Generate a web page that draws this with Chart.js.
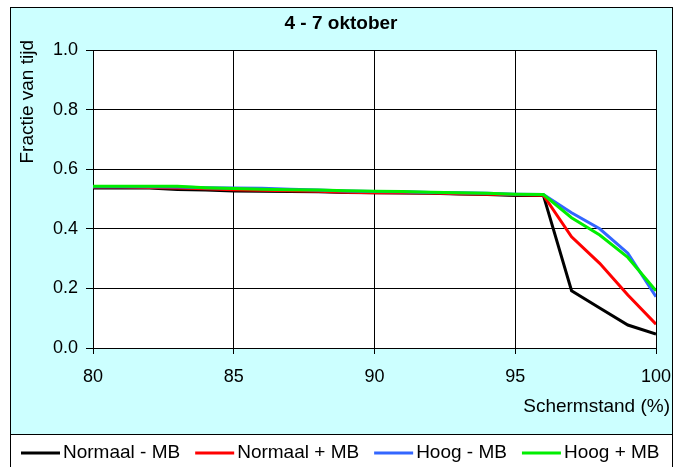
<!DOCTYPE html>
<html>
<head>
<meta charset="utf-8">
<script src="https://cdn.jsdelivr.net/npm/chart.js@4/dist/chart.umd.min.js"></script>
<style>
  html, body { margin: 0; padding: 0; background: #fff; }
  #wrap { width: 685px; height: 467px; }
</style>
</head>
<body>
<div id="wrap"><canvas id="chart" width="685" height="467"></canvas></div>
<script>
// schermstand (%) op de x-as
const schermstand = [80, 81, 82, 83, 84, 85, 86, 87, 88, 89, 90, 91, 92, 93, 94, 95, 96, 97, 98, 99, 100];

const normaalMin = [0.537, 0.537, 0.537, 0.532, 0.530, 0.527, 0.526, 0.525, 0.524, 0.522, 0.521, 0.520, 0.519, 0.517, 0.515, 0.512, 0.512, 0.192, 0.134, 0.077, 0.047];
const normaalPlus = [0.540, 0.540, 0.539, 0.537, 0.534, 0.531, 0.529, 0.528, 0.526, 0.523, 0.521, 0.521, 0.520, 0.518, 0.516, 0.514, 0.513, 0.373, 0.284, 0.178, 0.080];
const hoogMin = [0.541, 0.541, 0.541, 0.540, 0.538, 0.537, 0.536, 0.533, 0.530, 0.527, 0.525, 0.524, 0.522, 0.521, 0.519, 0.516, 0.515, 0.454, 0.400, 0.318, 0.172];
const hoogPlus = [0.543, 0.543, 0.543, 0.543, 0.538, 0.535, 0.533, 0.531, 0.530, 0.528, 0.526, 0.525, 0.523, 0.521, 0.519, 0.516, 0.515, 0.437, 0.379, 0.304, 0.192];

const seriesNames = ["Normaal - MB", "Normaal + MB", "Hoog - MB", "Hoog + MB"];
const seriesColors = ["#000000", "#ff0000", "#3366ff", "#00ee00"];
const seriesValues = [normaalMin, normaalPlus, hoogMin, hoogPlus];

const titleText = "4 - 7 oktober";
const yTitle = "Fractie van tijd";
const xTitle = "Schermstand (%)";

const FONT = "'Liberation Sans', Arial, sans-serif";

function toPoints(values) {
    return schermstand.map((x, i) => ({ x: x, y: values[i] }));
}

// achtergrond, kaders, titels en legenda
const framePlugin = {
    id: "frame",
    beforeDraw(chart) {
        const c = chart.ctx;
        const a = chart.chartArea;
        c.save();
        c.fillStyle = "#ffffff";
        c.fillRect(0, 0, chart.width, chart.height);
        c.fillStyle = "#ccffff";
        c.fillRect(11, 8, 661, 426);
        c.fillStyle = "#ffffff";
        c.fillRect(a.left, a.top, a.right - a.left, a.bottom - a.top);
        c.strokeStyle = "#000";
        c.lineWidth = 1;
        c.strokeRect(10.5, 7.5, 662, 427);
        c.strokeRect(10.5, 434.5, 662, 40);
        c.restore();
    },
    afterDraw(chart) {
        const c = chart.ctx;
        c.save();
        c.fillStyle = "#000";

        c.font = "bold 19px " + FONT;
        c.textAlign = "center";
        c.textBaseline = "middle";
        c.fillText(titleText, 341, 24);

        c.font = "19px " + FONT;
        c.textAlign = "right";
        c.fillText(xTitle, 670, 407);

        c.save();
        c.translate(28, 40);
        c.rotate(-Math.PI / 2);
        c.textAlign = "right";
        c.fillText(yTitle, 0, 0);
        c.restore();

        // legenda
        let x = 21;
        const y = 453;
        c.textAlign = "left";
        seriesNames.forEach((name, i) => {
            c.strokeStyle = seriesColors[i];
            c.lineWidth = 3;
            c.beginPath();
            c.moveTo(x, y);
            c.lineTo(x + 39, y);
            c.stroke();
            c.fillText(name, x + 42, y);
            x += 42 + c.measureText(name).width + 15;
        });
        c.restore();
    }
};

const ctx = document.getElementById("chart").getContext("2d");

new Chart(ctx, {
    type: "line",
    data: {
        datasets: seriesNames.map((name, i) => ({
            label: name,
            data: toPoints(seriesValues[i]),
            borderColor: seriesColors[i],
            backgroundColor: seriesColors[i],
            borderWidth: 3,
            pointRadius: 0,
            tension: 0,
            fill: false,
            order: 4 - i
        }))
    },
    options: {
        responsive: false,
        animation: false,
        devicePixelRatio: 1,
        layout: { padding: { left: 0, top: 50, right: 29, bottom: 0 } },
        plugins: {
            legend: { display: false },
            title: { display: false },
            tooltip: { enabled: false }
        },
        scales: {
            x: {
                type: "linear",
                min: 80,
                max: 100,
                ticks: { stepSize: 5, color: "#000", font: { family: FONT, size: 18 }, padding: 12, maxRotation: 0 },
                grid: { color: "#000", tickLength: 6, lineWidth: 1 },
                border: { color: "#000" },
                afterFit(scale) { scale.height = 119; }
            },
            y: {
                min: 0,
                max: 1,
                ticks: {
                    stepSize: 0.2,
                    color: "#000",
                    font: { family: FONT, size: 18 },
                    padding: 8,
                    callback: v => v.toFixed(1)
                },
                grid: { color: "#000", tickLength: 7, lineWidth: 1 },
                border: { color: "#000" },
                afterFit(scale) { scale.width = 93; }
            }
        }
    },
    plugins: [framePlugin]
});
</script>
</body>
</html>
